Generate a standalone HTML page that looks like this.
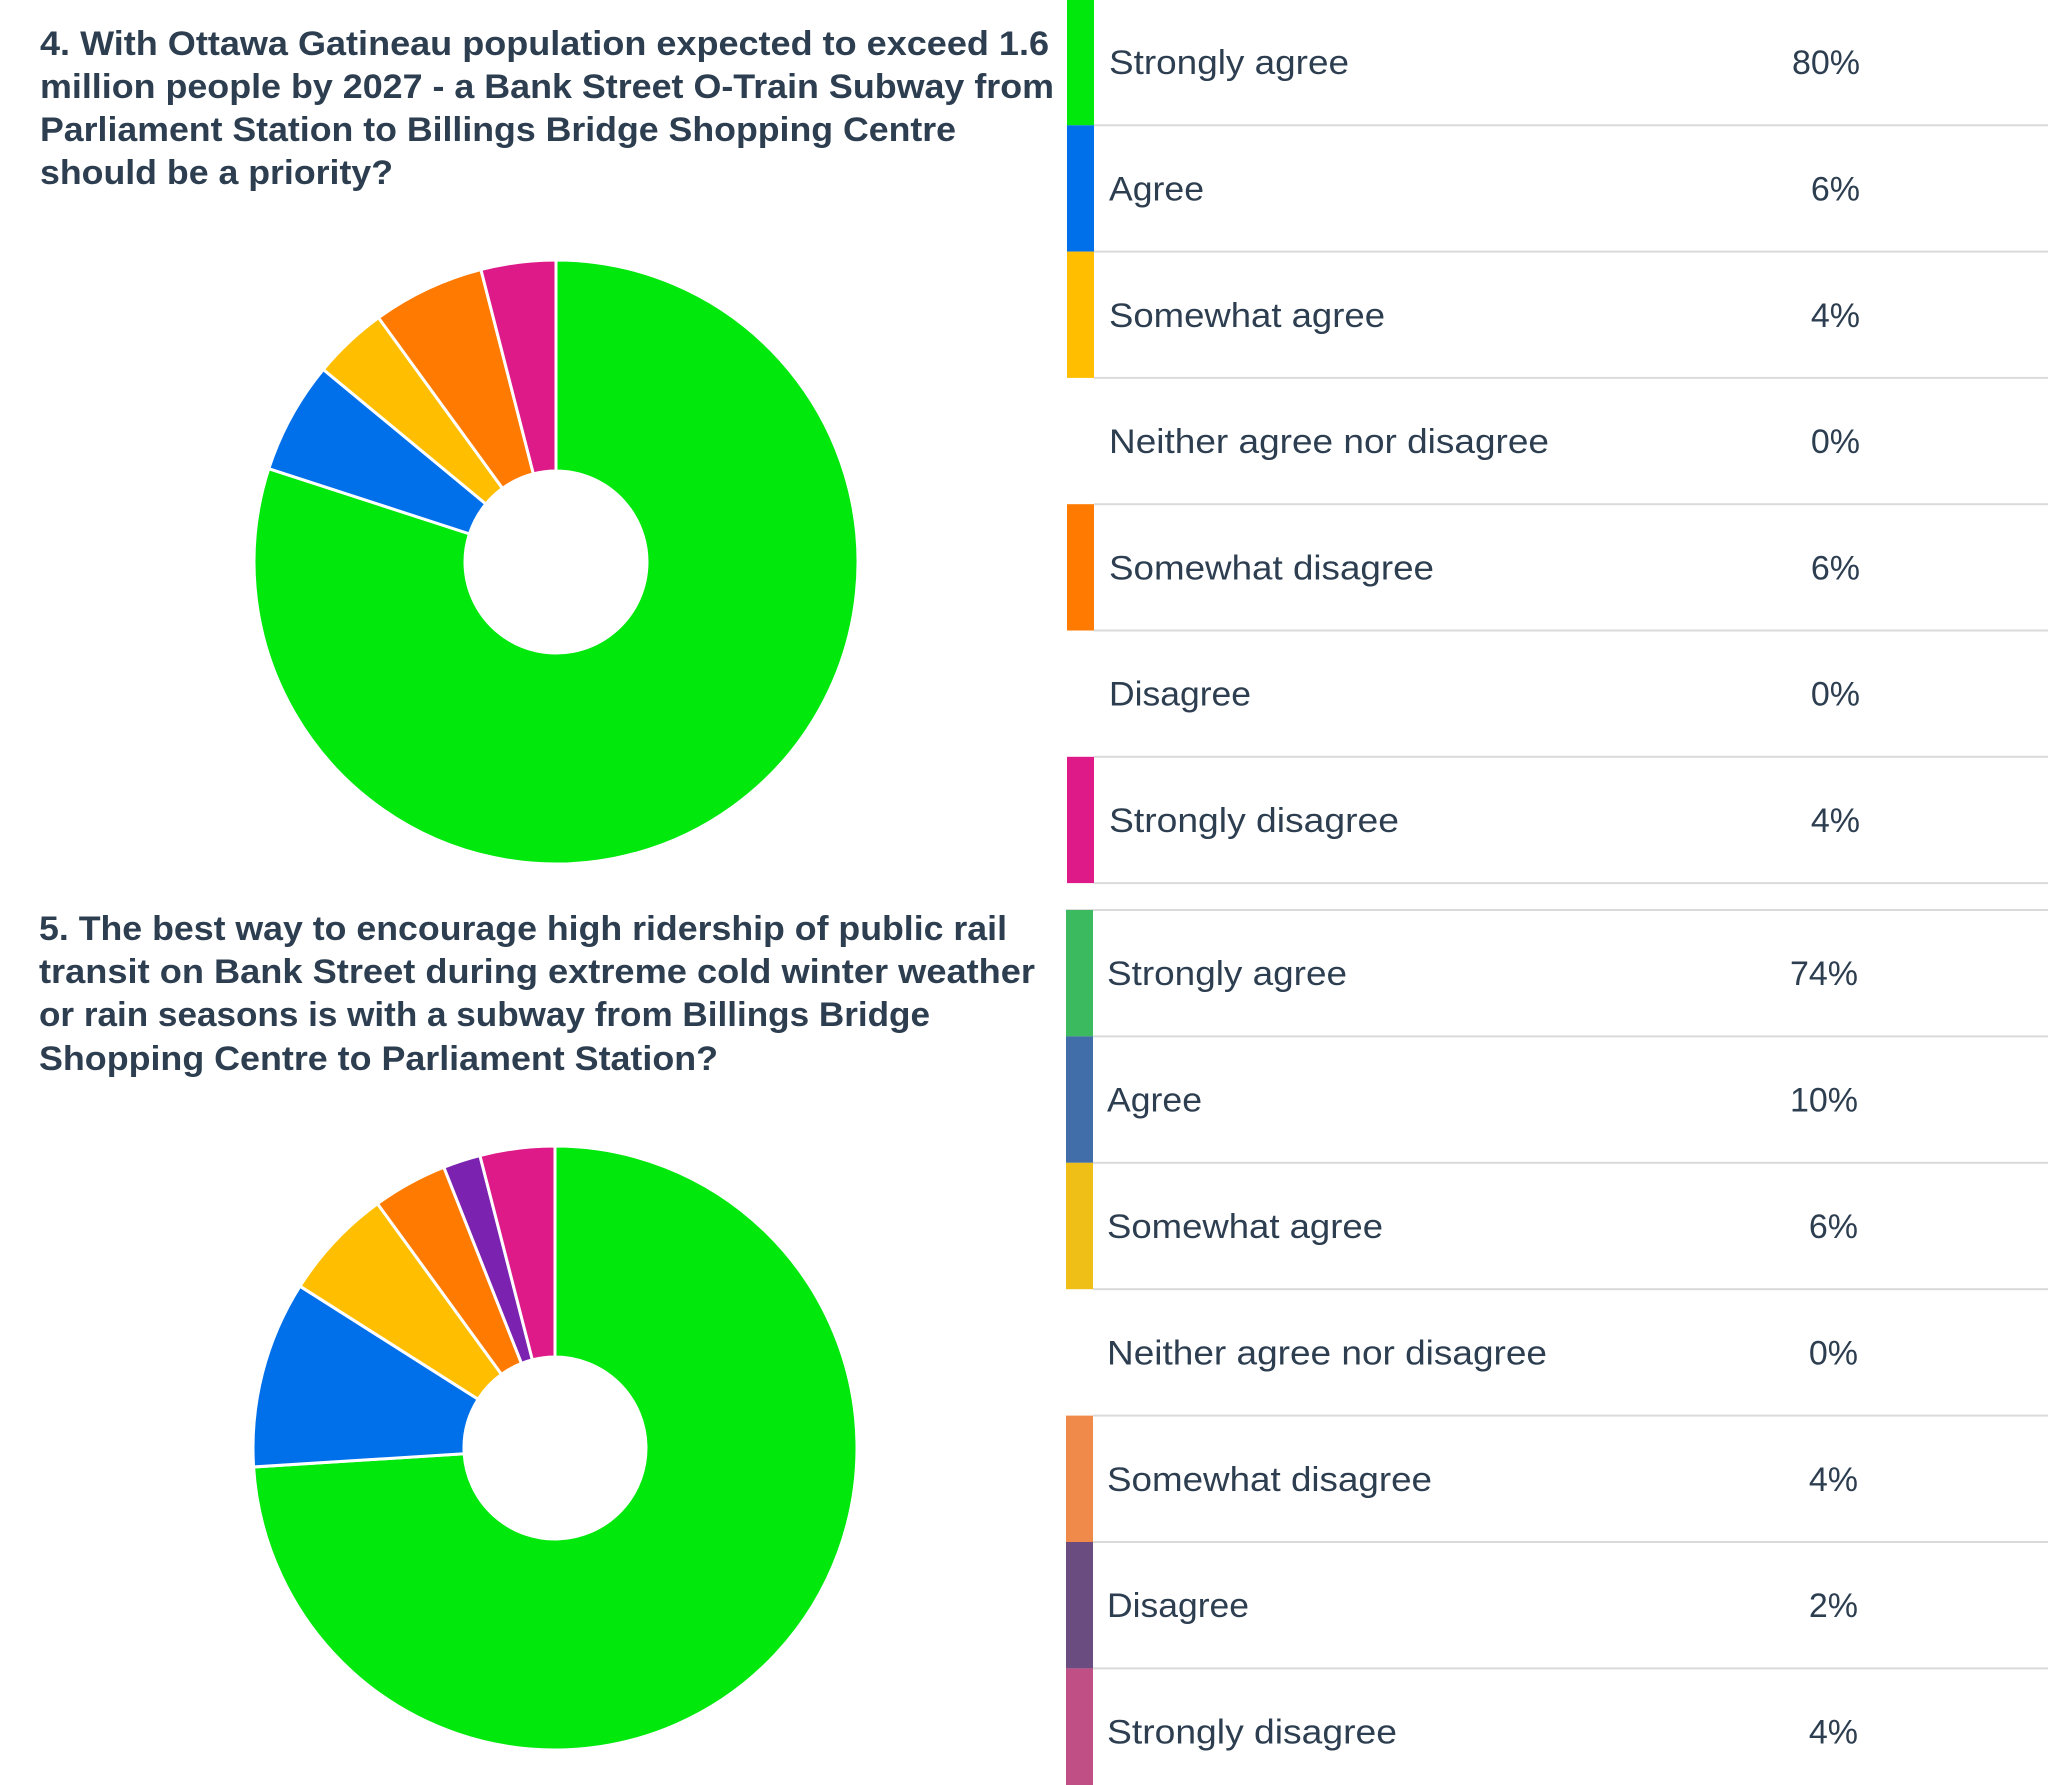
<!DOCTYPE html>
<html><head><meta charset="utf-8"><style>
html,body{margin:0;padding:0;background:#fff;}
svg{display:block}
text{font-family:"Liberation Sans",sans-serif;fill:#2d3e50}
.t{font-weight:bold;font-size:34px}
.l{font-size:34px}
</style></head><body>
<svg id="s" width="2048" height="1785" viewBox="0 0 2048 1785" xmlns="http://www.w3.org/2000/svg">
<g id="d1"></g><g id="d2"></g>
<text class="t" x="40" y="55" textLength="1009" lengthAdjust="spacingAndGlyphs">4. With Ottawa Gatineau population expected to exceed 1.6</text>
<text class="t" x="40" y="98" textLength="1014" lengthAdjust="spacingAndGlyphs">million people by 2027 - a Bank Street O-Train Subway from</text>
<text class="t" x="40" y="141" textLength="916" lengthAdjust="spacingAndGlyphs">Parliament Station to Billings Bridge Shopping Centre</text>
<text class="t" x="40" y="184" textLength="353" lengthAdjust="spacingAndGlyphs">should be a priority?</text>
<text class="t" x="39" y="940" textLength="968" lengthAdjust="spacingAndGlyphs">5. The best way to encourage high ridership of public rail</text>
<text class="t" x="39" y="983" textLength="996" lengthAdjust="spacingAndGlyphs">transit on Bank Street during extreme cold winter weather</text>
<text class="t" x="39" y="1026" textLength="891" lengthAdjust="spacingAndGlyphs">or rain seasons is with a subway from Billings Bridge</text>
<text class="t" x="39" y="1070" textLength="679" lengthAdjust="spacingAndGlyphs">Shopping Centre to Parliament Station?</text>
<g id="L1"></g><g id="L2"></g>
</svg>
<script>
var NS="http://www.w3.org/2000/svg";
function el(p,n,a,txt){var e=document.createElementNS(NS,n);for(var k in a)e.setAttribute(k,a[k]);if(txt)e.textContent=txt;document.getElementById(p).appendChild(e);return e;}
function donut(id,cx,cy,R,r,data){
 var a0=0;
 data.forEach(function(d){
  var a1=a0+d[0]/100*2*Math.PI;
  function pt(rad,a){return [cx+rad*Math.sin(a),cy-rad*Math.cos(a)];}
  var p1=pt(R,a0),p2=pt(R,a1),p3=pt(r,a1),p4=pt(r,a0);var lg=(a1-a0)>Math.PI?1:0;
  el(id,"path",{d:"M"+p1+" A"+R+","+R+" 0 "+lg+" 1 "+p2+" L"+p3+" A"+r+","+r+" 0 "+lg+" 0 "+p4+"Z",fill:d[1],stroke:"#fff","stroke-width":"3","stroke-linejoin":"round"});
  a0=a1;
 });
}
donut("d1",556,562,302,91,[[80,"#00e80c"],[6,"#0070ea"],[4,"#ffbf00"],[6,"#ff7a00"],[4,"#dd1a88"]]);
donut("d2",555,1448,302,91,[[74,"#00e80c"],[10,"#0070ea"],[6,"#ffbf00"],[4,"#ff7a00"],[2,"#7b22b0"],[4,"#dd1a88"]]);
function legend(id,top,bx,lx,px,rows,h){
 rows.forEach(function(r,i){
  var y=top+i*h;
  if(r[3])el(id,"rect",{x:bx,y:y,width:27,height:h,fill:r[3]});
  el(id,"text",{"class":"l",x:lx,y:y+h/2+12,textLength:r[2],lengthAdjust:"spacingAndGlyphs"},r[0]);
  el(id,"text",{"class":"l",x:px,y:y+h/2+12,"text-anchor":"end"},r[1]);
  el(id,"rect",{x:bx+27,y:y+h-1,width:2048-bx,height:2,fill:"#dadada"});
 });
}
legend("L1",-1,1067,1109,1860,[["Strongly agree","80%",240,"#00e80c"],["Agree","6%",95,"#0070ea"],["Somewhat agree","4%",276,"#ffbf00"],["Neither agree nor disagree","0%",440,null],["Somewhat disagree","6%",325,"#ff7a00"],["Disagree","0%",142,null],["Strongly disagree","4%",290,"#dd1a88"]],126.3);
el("L2","rect",{x:1066,y:909,width:982,height:2,fill:"#dadada"});
legend("L2",910,1066,1107,1858,[["Strongly agree","74%",240,"#3cba60"],["Agree","10%",95,"#416ea8"],["Somewhat agree","6%",276,"#efbe17"],["Neither agree nor disagree","0%",440,null],["Somewhat disagree","4%",325,"#ef8a4a"],["Disagree","2%",142,"#6a4c80"],["Strongly disagree","4%",290,"#c04f86"]],126.4);
</script>
</body></html>
